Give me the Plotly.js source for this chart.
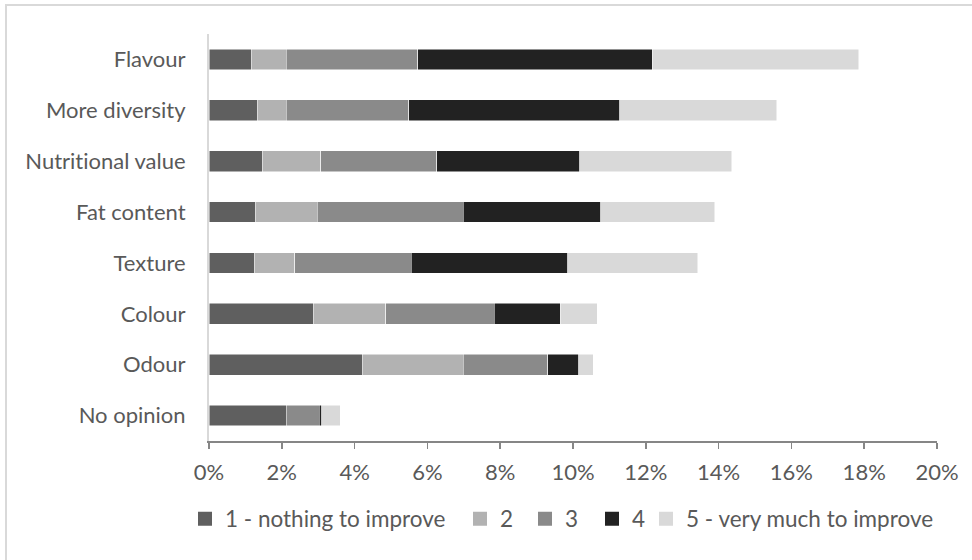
<!DOCTYPE html>
<html>
<head>
<meta charset="utf-8">
<script src="https://cdn.plot.ly/plotly-3.0.1.min.js"></script>
<style>
  html, body { margin: 0; padding: 0; background: #ffffff; overflow: hidden; }
  #chart { width: 972px; height: 560px; }
  #chart text { font-variant-ligatures: none; font-feature-settings: "liga" 0; }
  #frame { position: absolute; left: 5px; top: 4px; width: 1000px; height: 1000px;
           border: 2px solid #d9d9d9; pointer-events: none; }
</style>
</head>
<body>
<div id="chart"></div>
<div id="frame"></div>
<script>
// Categories (top to bottom)
const categories = ["Flavour", "More diversity", "Nutritional value", "Fat content",
                    "Texture", "Colour", "Odour", "No opinion"];
// Series values (% of respondents)
const s1 = [1.17, 1.32, 1.46, 1.27, 1.24, 2.88, 4.23, 2.12];
const s2 = [0.95, 0.80, 1.61, 1.70, 1.12, 1.97, 2.76, 0.00];
const s3 = [3.62, 3.37, 3.19, 4.02, 3.20, 2.99, 2.32, 0.91];
const s4 = [6.44, 5.80, 3.93, 3.77, 4.30, 1.81, 0.85, 0.07];
const s5 = [5.67, 4.31, 4.17, 3.13, 3.57, 1.01, 0.39, 0.50];
const seriesNames = ["1 - nothing to improve", "2", "3", "4", "5 - very much to improve"];
const seriesColors = ["#5f5f5f", "#b2b2b2", "#8a8a8a", "#222222", "#d9d9d9"];
const tickVals = [0, 2, 4, 6, 8, 10, 12, 14, 16, 18, 20];
const tickText = tickVals.map(v => v + "%");

const allSeries = [s1, s2, s3, s4, s5];
const legendIds = ["legend", "legend2", "legend3", "legend4", "legend5"];
// left edge (px) of each legend marker in the picture
const legendMarkerLeft = [198, 473, 538, 605, 659];

const barTraces = allSeries.map((vals, i) => ({
  type: "bar",
  orientation: "h",
  name: seriesNames[i],
  x: vals,
  y: categories,
  showlegend: false,
  marker: { color: seriesColors[i], line: { color: "#ffffff", width: 0.5 } },
  hoverinfo: "x+y+name"
}));
// legend-only entries with square swatches
const legendTraces = allSeries.map((vals, i) => ({
  type: "scatter",
  mode: "markers",
  name: seriesNames[i],
  x: [null],
  y: [null],
  showlegend: true,
  legend: legendIds[i],
  marker: { symbol: "square", size: 14, color: seriesColors[i] },
  hoverinfo: "skip"
}));

const textColor = "#595959";
const font = { family: "Lato, 'Open Sans', sans-serif", size: 22, color: textColor };
const legendFont = { family: "Lato, 'Open Sans', sans-serif", size: 22.5, color: textColor };

const layout = {
  width: 972,
  height: 560,
  paper_bgcolor: "rgba(0,0,0,0)",
  plot_bgcolor: "#ffffff",
  margin: { l: 209, r: 35, t: 34, b: 119 },
  barmode: "stack",
  bargap: 0.59,
  font: font,
  showlegend: true,
  xaxis: {
    range: [0, 20],
    tickmode: "array",
    tickvals: tickVals,
    ticktext: tickText,
    showgrid: false,
    zeroline: false,
    showline: true,
    linecolor: "#868686",
    linewidth: 1.5,
    ticks: "outside",
    ticklen: 6,
    tickwidth: 1.5,
    tickcolor: "#868686",
    ticklabelstandoff: 5,
    tickfont: font,
    fixedrange: true
  },
  yaxis: {
    categoryorder: "array",
    categoryarray: categories.slice().reverse(),
    showgrid: false,
    zeroline: false,
    showline: true,
    linecolor: "#d9d9d9",
    linewidth: 2,
    ticks: "",
    ticklabelstandoff: 17,
    tickfont: font,
    fixedrange: true
  }
};
legendIds.forEach((id, i) => {
  layout[id] = {
    orientation: "h",
    xref: "container", x: (legendMarkerLeft[i] - 13) / 972, xanchor: "left",
    yref: "container", y: 1 - 519 / 560, yanchor: "middle",
    font: legendFont,
    itemwidth: 30,
    bgcolor: "rgba(0,0,0,0)"
  };
});

Plotly.newPlot("chart", barTraces.concat(legendTraces), layout, { displayModeBar: false, staticPlot: true });
</script>
</body>
</html>
